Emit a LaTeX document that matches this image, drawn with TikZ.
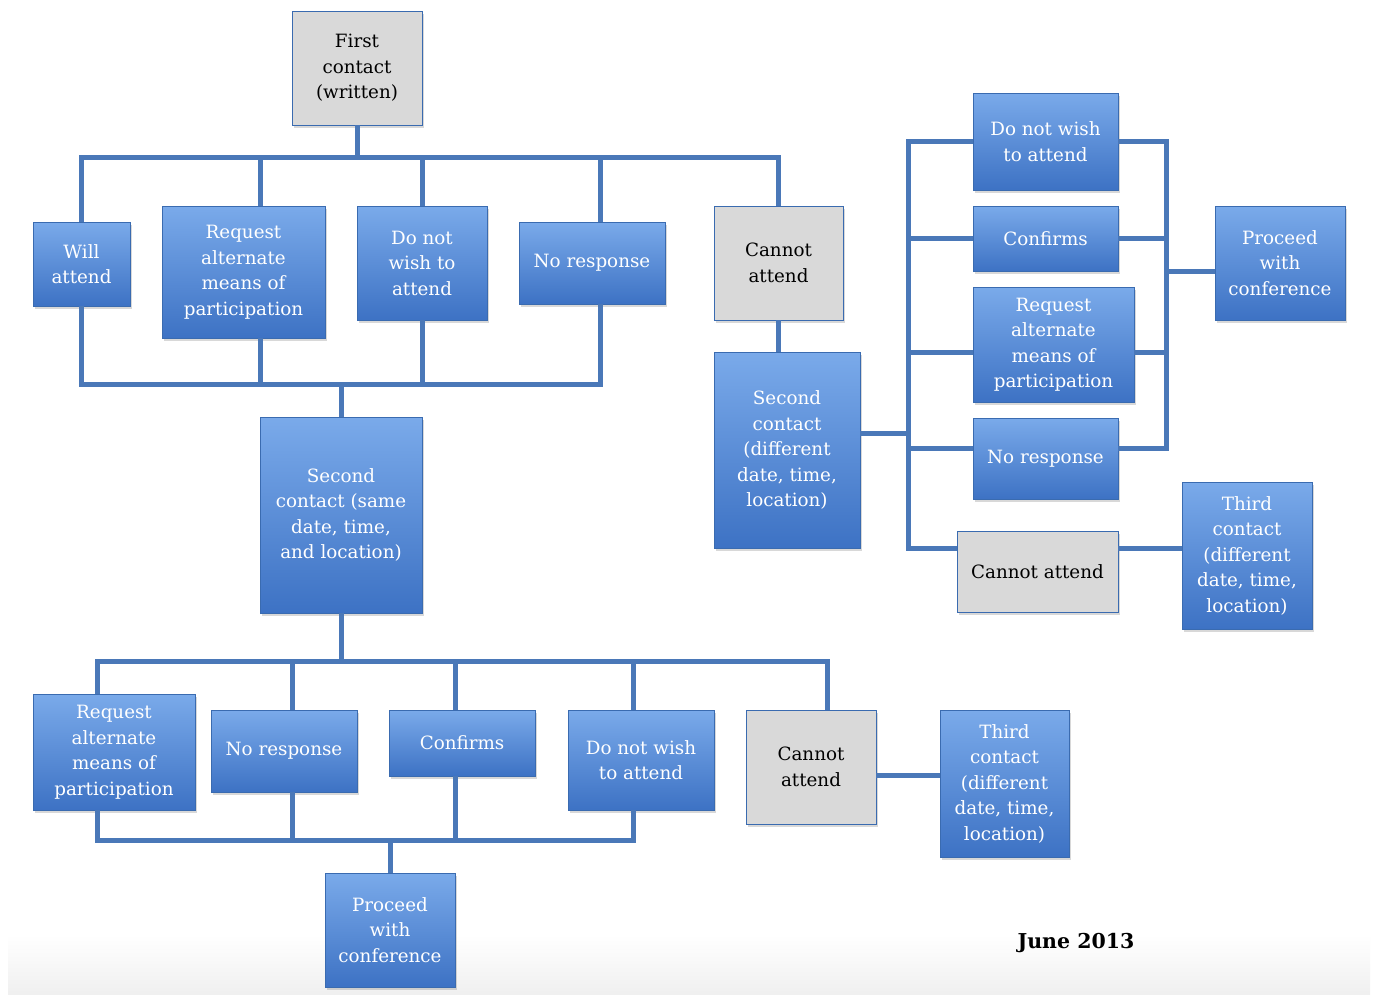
\documentclass[tikz,border=0pt]{standalone}
\usepackage{fontspec}
\setmainfont{DejaVu Serif}
\usetikzlibrary{shadows}
\definecolor{lineblue}{HTML}{4A78B8}
\definecolor{boxtop}{HTML}{7AAAEA}
\definecolor{boxbot}{HTML}{3D72C4}
\definecolor{boxedge}{HTML}{3A6BB0}
\definecolor{graybox}{HTML}{D9D9D9}
\begin{document}
\begin{tikzpicture}[x=1pt,y=-1pt,
  bx/.style={rectangle, draw=boxedge, line width=0.8pt, top color=boxtop, bottom color=boxbot,
    text=white, align=center, font=\fontsize{18.3}{25.5}\selectfont, inner sep=0pt,
    drop shadow={shadow xshift=2pt, shadow yshift=-2.5pt, opacity=0.3}},
  gx/.style={bx, top color=graybox, bottom color=graybox, text=black},
  conn/.style={draw=lineblue, line width=5pt}]
\useasboundingbox (0,0) rectangle (1377,994);
\fill[white] (0,0) rectangle (1377,994);
\shade[top color=white, bottom color=gray!12] (8,935) rectangle (1370,994);

% top level
\node[gx, minimum width=130pt, minimum height=114pt] (first) at (357,68) {First\\contact\\(written)};
\node[bx, minimum width=97pt, minimum height=84pt] (wa) at (81.5,264) {Will\\attend};
\node[bx, minimum width=163pt, minimum height=132pt] (req1) at (243.5,272) {Request\\alternate\\means of\\participation};
\node[bx, minimum width=130pt, minimum height=114pt] (dnw1) at (422,263) {Do not\\wish to\\attend};
\node[bx, minimum width=146pt, minimum height=82pt] (nr1) at (592,263) {No response};
\node[gx, minimum width=129pt, minimum height=114pt] (ca1) at (778.5,263) {Cannot\\attend};
\node[bx, minimum width=162pt, minimum height=196pt] (sc1) at (341,515) {Second\\contact (same\\date, time,\\and location)};
\node[bx, minimum width=146pt, minimum height=196pt] (sc2) at (787,450) {Second\\contact\\(different\\date, time,\\location)};

% right group
\node[bx, minimum width=145pt, minimum height=97pt] (dnw2) at (1045.5,141.5) {Do not wish\\to attend};
\node[bx, minimum width=145pt, minimum height=65pt] (cf2) at (1045.5,238.5) {Confirms};
\node[bx, minimum width=161pt, minimum height=115pt] (req2) at (1053.5,344.5) {Request\\alternate\\means of\\participation};
\node[bx, minimum width=145pt, minimum height=81pt] (nr2) at (1045.5,458.5) {No response};
\node[gx, minimum width=161pt, minimum height=81pt] (ca2) at (1037.5,571.5) {Cannot attend};
\node[bx, minimum width=130pt, minimum height=114pt] (pc2) at (1280,263) {Proceed\\with\\conference};
\node[bx, minimum width=130pt, minimum height=147pt] (tc2) at (1247,555.5) {Third\\contact\\(different\\date, time,\\location)};

% bottom group
\node[bx, minimum width=162pt, minimum height=116pt] (req3) at (114,752) {Request\\alternate\\means of\\participation};
\node[bx, minimum width=146pt, minimum height=82pt] (nr3) at (284,751) {No response};
\node[bx, minimum width=146pt, minimum height=66pt] (cf3) at (462,743) {Confirms};
\node[bx, minimum width=146pt, minimum height=100pt] (dnw3) at (641,760) {Do not wish\\to attend};
\node[gx, minimum width=130pt, minimum height=114pt] (ca3) at (811,767) {Cannot\\attend};
\node[bx, minimum width=129pt, minimum height=147pt] (tc3) at (1004.5,783.5) {Third\\contact\\(different\\date, time,\\location)};
\node[bx, minimum width=130pt, minimum height=114pt] (pc3) at (390,930) {Proceed\\with\\conference};

\node[font=\bfseries\fontsize{20.5}{24}\selectfont, text=black] (june) at (1076,943) {June 2013};

% coordinates of buses
\coordinate (bus1) at (357,157);
\coordinate (bus2) at (341,384);
\coordinate (sp) at (908,433);
\coordinate (r5) at (908,548);
\coordinate (rs) at (1166,271);
\coordinate (bus3) at (341,661);
\coordinate (bus4) at (390,840);

% top connectors
\draw[conn] (first.south) -- (first.south |- bus1);
\draw[conn] (wa.north) -- (wa.north |- bus1) -- (ca1.north |- bus1) -- (ca1.north);
\draw[conn] ([xshift=16.5pt]req1.north) -- ([xshift=16.5pt]req1.north |- bus1);
\draw[conn] (dnw1.north) -- (dnw1.north |- bus1);
\draw[conn] ([xshift=8pt]nr1.north) -- ([xshift=8pt]nr1.north |- bus1);
\draw[conn] (wa.south) -- (wa.south |- bus2) -- ([xshift=8pt]nr1.south |- bus2) -- ([xshift=8pt]nr1.south);
\draw[conn] ([xshift=16.5pt]req1.south) -- ([xshift=16.5pt]req1.south |- bus2);
\draw[conn] (dnw1.south) -- (dnw1.south |- bus2);
\draw[conn] (bus2) -- (sc1.north);
\draw[conn] (ca1.south) -- (ca1.south |- sc2.north);

% right connectors
\draw[conn] (sc2.east |- sp) -- (sp);
\draw[conn] (dnw2.west) -- (dnw2.west -| sp) -- (r5) -- (r5 -| ca2.west);
\draw[conn] (cf2.west) -- (cf2.west -| sp);
\draw[conn] ([yshift=-8pt]req2.west) -- ([yshift=-8pt]req2.west -| sp);
\draw[conn] ([yshift=10pt]nr2.west) -- ([yshift=10pt]nr2.west -| sp);
\draw[conn] (dnw2.east) -- (dnw2.east -| rs) -- ([yshift=10pt]nr2.east -| rs) -- ([yshift=10pt]nr2.east);
\draw[conn] (cf2.east) -- (cf2.east -| rs);
\draw[conn] ([yshift=-8pt]req2.east) -- ([yshift=-8pt]req2.east -| rs);
\draw[conn] (rs) -- (rs -| pc2.west);
\draw[conn] (r5 -| ca2.east) -- (r5 -| tc2.west);

% bottom connectors
\draw[conn] (sc1.south) -- (bus3);
\draw[conn] ([xshift=-17pt]req3.north) -- ([xshift=-17pt]req3.north |- bus3) -- ([xshift=16pt]ca3.north |- bus3) -- ([xshift=16pt]ca3.north);
\draw[conn] ([xshift=8pt]nr3.north) -- ([xshift=8pt]nr3.north |- bus3);
\draw[conn] ([xshift=-7pt]cf3.north) -- ([xshift=-7pt]cf3.north |- bus3);
\draw[conn] ([xshift=-8pt]dnw3.north) -- ([xshift=-8pt]dnw3.north |- bus3);
\draw[conn] ([xshift=-17pt]req3.south) -- ([xshift=-17pt]req3.south |- bus4) -- ([xshift=-8pt]dnw3.south |- bus4) -- ([xshift=-8pt]dnw3.south);
\draw[conn] ([xshift=8pt]nr3.south) -- ([xshift=8pt]nr3.south |- bus4);
\draw[conn] ([xshift=-7pt]cf3.south) -- ([xshift=-7pt]cf3.south |- bus4);
\draw[conn] (bus4) -- (pc3.north);
\draw[conn] ([yshift=-8pt]ca3.east) -- ([yshift=-8pt]ca3.east -| tc3.west);
\end{tikzpicture}
\end{document}
